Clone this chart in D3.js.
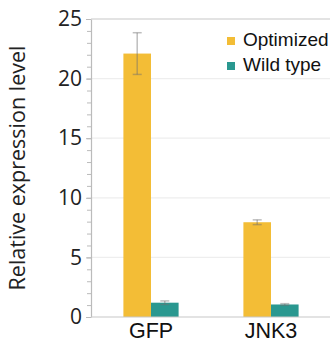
<!DOCTYPE html>
<html>
<head>
<meta charset="utf-8">
<title>Relative expression level</title>
<script src="https://d3js.org/d3.v7.min.js"></script>
<style>
  body { margin: 0; background: #fff; }
  svg { display: block; }
</style>
</head>
<body>
<div id="container"></div>
<script>
const genes = ["GFP", "JNK3"];
const groups = ["Optimized", "Wild type"];
const optimized = [22.1, 7.95];
const optimizedErr = [1.75, 0.2];
const wildType = [1.2, 1.05];
const wildTypeErr = [0.15, 0.07];
const yTicks = [0, 5, 10, 15, 20, 25];

const width = 330,
      height = 342,
      margin = { top: 19, right: 0, bottom: 25, left: 91 };

const colors = { "Optimized": "#f3bd36", "Wild type": "#2a9890" };

const rows = [];
genes.forEach(function(g, i) {
  rows.push({ gene: g, group: "Optimized", value: optimized[i], err: optimizedErr[i] });
  rows.push({ gene: g, group: "Wild type", value: wildType[i], err: wildTypeErr[i] });
});

const svg = d3.select("#container")
  .append("svg")
  .attr("width", width)
  .attr("height", height);

const x = d3.scaleBand()
  .domain(genes)
  .range([margin.left, width + 1])
  .paddingInner(0.54)
  .paddingOuter(0.27);

const xSub = d3.scaleBand()
  .domain(groups)
  .range([0, x.bandwidth()]);

const y = d3.scaleLinear()
  .domain([0, 25])
  .range([height - margin.bottom, margin.top]);

// grid lines
svg.append("g")
  .selectAll("line")
  .data(yTicks.filter(function(t) { return t > 0 && t < 25; }))
  .enter()
  .append("line")
  .attr("x1", margin.left)
  .attr("x2", width)
  .attr("y1", function(d) { return y(d); })
  .attr("y2", function(d) { return y(d); })
  .attr("stroke", "#eeeeee")
  .attr("stroke-width", 1.2);

// top border
svg.append("line")
  .attr("x1", margin.left)
  .attr("x2", width)
  .attr("y1", y(25))
  .attr("y2", y(25))
  .attr("stroke", "#c8c8c8")
  .attr("stroke-width", 1.2);

// minor ticks
svg.append("g")
  .attr("transform", `translate(${margin.left},0)`)
  .call(d3.axisLeft(y).ticks(25).tickSize(4).tickFormat(""))
  .call(function(g) {
    g.select(".domain").remove();
    g.selectAll("line").attr("stroke", "#bbbbbb");
  });

// y axis
svg.append("g")
  .attr("transform", `translate(${margin.left},0)`)
  .call(d3.axisLeft(y).tickValues(yTicks).tickSize(5).tickPadding(4).tickSizeOuter(0))
  .call(function(g) {
    g.select(".domain").attr("stroke", "#bbbbbb").attr("stroke-width", 1.2);
    g.selectAll("line").attr("stroke", "#bbbbbb");
    g.selectAll("text")
      .attr("fill", "#222")
      .style("font-family", "'Open Sans', sans-serif")
      .style("font-size", "21px");
  });

// bars
svg.append("g")
  .selectAll("rect")
  .data(rows)
  .enter()
  .append("rect")
  .attr("x", function(d) { return x(d.gene) + xSub(d.group); })
  .attr("width", xSub.bandwidth())
  .attr("y", function(d) { return y(d.value); })
  .attr("height", function(d) { return y(0) - y(d.value); })
  .attr("fill", function(d) { return colors[d.group]; });

// error bars
const eb = svg.append("g")
  .selectAll("g")
  .data(rows)
  .enter()
  .append("g")
  .attr("stroke", "rgba(110,110,110,0.45)")
  .attr("stroke-width", 1.5);

function cx(d) { return x(d.gene) + xSub(d.group) + xSub.bandwidth() / 2; }

eb.append("line")
  .attr("x1", cx).attr("x2", cx)
  .attr("y1", function(d) { return y(d.value + d.err); })
  .attr("y2", function(d) { return y(d.value - d.err); });
eb.append("line")
  .attr("x1", function(d) { return cx(d) - 4.5; })
  .attr("x2", function(d) { return cx(d) + 4.5; })
  .attr("y1", function(d) { return y(d.value + d.err); })
  .attr("y2", function(d) { return y(d.value + d.err); });
eb.append("line")
  .attr("x1", function(d) { return cx(d) - 4.5; })
  .attr("x2", function(d) { return cx(d) + 4.5; })
  .attr("y1", function(d) { return y(d.value - d.err); })
  .attr("y2", function(d) { return y(d.value - d.err); });

// x axis
svg.append("g")
  .attr("transform", `translate(0,${y(0)})`)
  .call(d3.axisBottom(x).tickSize(0).tickPadding(6))
  .call(function(g) {
    g.select(".domain")
      .attr("d", `M${margin.left},0H${width}`)
      .attr("stroke", "#c8c8c8")
      .attr("stroke-width", 1.2);
    g.selectAll("text")
      .attr("fill", "#111")
      .style("font-family", "'Liberation Sans', Arial, sans-serif")
      .style("font-size", "21.5px");
  });

// y axis title
svg.append("text")
  .attr("transform", `translate(25,168) rotate(-90)`)
  .attr("text-anchor", "middle")
  .attr("fill", "#222")
  .style("font-family", "'Open Sans', sans-serif")
  .style("font-size", "21.5px")
  .text("Relative expression level");

// legend
const legend = svg.append("g")
  .selectAll("g")
  .data(groups)
  .enter()
  .append("g")
  .attr("transform", function(d, i) { return `translate(227,${37 + i * 25})`; });

legend.append("rect")
  .attr("width", 8)
  .attr("height", 8)
  .attr("fill", function(d) { return colors[d]; });

legend.append("text")
  .attr("x", 16)
  .attr("y", 9)
  .attr("fill", "#111")
  .style("font-family", "'Liberation Sans', Arial, sans-serif")
  .style("font-size", "19px")
  .text(function(d) { return d; });
</script>
</body>
</html>
